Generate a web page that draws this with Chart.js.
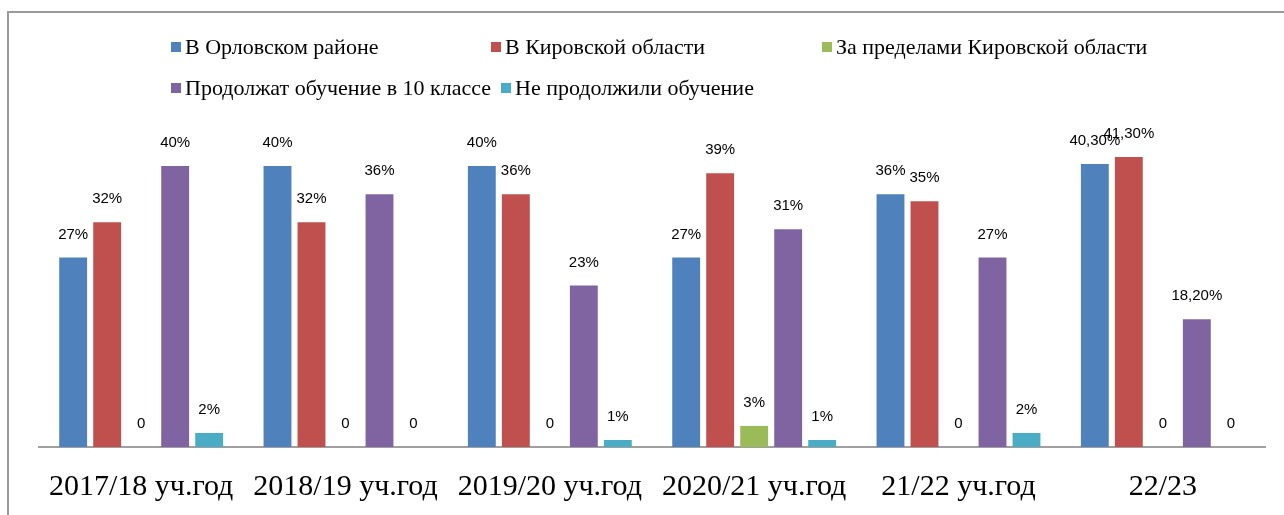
<!DOCTYPE html>
<html lang="ru">
<head>
    <meta charset="UTF-8">
    <title>Продолжение обучения выпускников 9 класса</title>
    <script src="https://cdn.jsdelivr.net/npm/chart.js"></script>
    <style>
        body {
            margin: 0;
            background: #fff;
            overflow: hidden;
        }
        .wrap {
            position: relative;
            width: 1284px;
            height: 515px;
        }
        .frame {
            position: absolute;
            left: 7px;
            top: 11px;
            width: 1300px;
            height: 520px;
            border-top: 2px solid #9a9a9a;
            border-left: 2px solid #9a9a9a;
        }
        canvas {
            position: absolute;
            left: 0;
            top: 0;
        }
        .legend-item {
            position: absolute;
            font-family: "Liberation Serif", "Times New Roman", serif;
            font-size: 22px;
            color: #000;
            white-space: nowrap;
            line-height: 24px;
        }
        .legend-item .box {
            display: inline-block;
            width: 10px;
            height: 10px;
            margin-right: 4px;
            vertical-align: 2px;
        }
    </style>
</head>
<body>
<div class="wrap">
    <div class="frame"></div>
    <canvas id="chart" width="1284" height="515"></canvas>
    <div id="legend"></div>
</div>

<script>
    // categories (school years)
    const years = ['2017/18 уч.год', '2018/19 уч.год', '2019/20 уч.год', '2020/21 уч.год', '21/22 уч.год', '22/23'];

    // series, % of graduates
    const orlovskyDistrict = [27, 40, 40, 27, 36, 40.3];
    const kirovRegion      = [32, 32, 36, 39, 35, 41.3];
    const outsideRegion    = [0, 0, 0, 3, 0, 0];
    const grade10          = [40, 36, 23, 31, 27, 18.2];
    const notContinued     = [2, 0, 1, 1, 2, 0];

    const seriesNames = [
        'В Орловском районе',
        'В Кировской области',
        'За пределами Кировской области',
        'Продолжат обучение в 10 классе',
        'Не продолжили обучение'
    ];
    const seriesColors = ['#4F81BD', '#C0504D', '#9BBB59', '#8064A2', '#4BACC6'];
    const seriesData = [orlovskyDistrict, kirovRegion, outsideRegion, grade10, notContinued];

    // legend laid out like the Excel original (two rows, columns)
    const legendPos = [
        [171, 35], [491, 35], [822, 35],
        [171, 76], [501, 76]
    ];
    const legendEl = document.getElementById('legend');
    seriesNames.forEach((name, i) => {
        const item = document.createElement('div');
        item.className = 'legend-item';
        item.style.left = legendPos[i][0] + 'px';
        item.style.top = legendPos[i][1] + 'px';
        item.innerHTML = '<span class="box" style="background:' + seriesColors[i] + '"></span>';
        item.appendChild(document.createTextNode(name));
        legendEl.appendChild(item);
    });

    function formatValue(v) {
        if (v === 0) return '0';
        if (Number.isInteger(v)) return v + '%';
        return v.toFixed(2).replace('.', ',') + '%';
    }

    // values above the bars
    const valueLabels = {
        id: 'valueLabels',
        afterDatasetsDraw(chart) {
            const ctx = chart.ctx;
            ctx.save();
            ctx.font = '15px "Liberation Sans", Arial, sans-serif';
            ctx.fillStyle = '#000';
            ctx.textAlign = 'center';
            ctx.textBaseline = 'middle';
            chart.data.datasets.forEach((ds, i) => {
                chart.getDatasetMeta(i).data.forEach((bar, j) => {
                    ctx.fillText(formatValue(ds.data[j]), bar.x, bar.y - 23);
                });
            });
            ctx.restore();
        }
    };

    new Chart(document.getElementById('chart'), {
        type: 'bar',
        data: {
            labels: years,
            datasets: seriesNames.map((name, i) => ({
                label: name,
                data: seriesData[i],
                backgroundColor: seriesColors[i],
                categoryPercentage: 0.832,
                barPercentage: 0.82
            }))
        },
        options: {
            responsive: false,
            animation: false,
            layout: {
                padding: { left: 39, right: 19, top: 131, bottom: 0 }
            },
            plugins: {
                legend: { display: false },
                tooltip: { enabled: false }
            },
            scales: {
                x: {
                    grid: { display: false },
                    border: { display: true, color: '#a0a0a0', width: 2 },
                    ticks: {
                        color: '#000',
                        padding: 14,
                        maxRotation: 0,
                        autoSkip: false,
                        font: { family: '"Liberation Serif", "Times New Roman", serif', size: 30 }
                    },
                    afterFit(scale) { scale.height = 68; }
                },
                y: {
                    display: false,
                    min: 0,
                    max: 45
                }
            }
        },
        plugins: [valueLabels]
    });
</script>
</body>
</html>
